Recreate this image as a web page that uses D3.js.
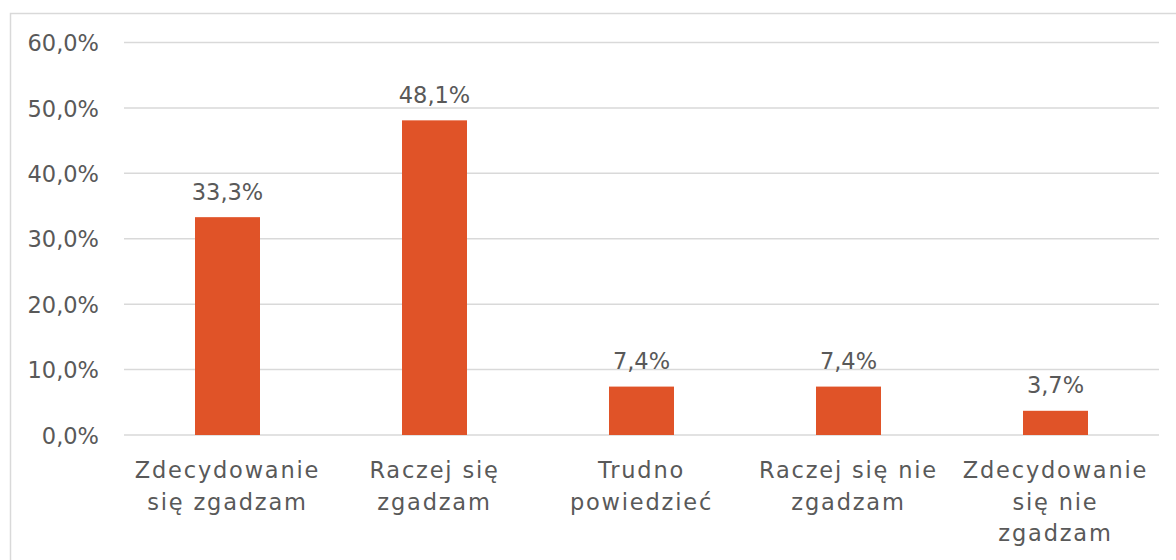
<!DOCTYPE html>
<html>
<head>
<meta charset="utf-8">
<script src="https://cdn.jsdelivr.net/npm/d3@7"></script>
<style>
  html, body { margin: 0; padding: 0; background: #fff; }
  svg { display: block; }
  text { font-family: "DejaVu Sans", sans-serif; fill: #595959; }
</style>
</head>
<body>
<svg id="chart" width="1176" height="560"></svg>
<script>
const categories = [
  "Zdecydowanie\nsię zgadzam",
  "Raczej się\nzgadzam",
  "Trudno\npowiedzieć",
  "Raczej się nie\nzgadzam",
  "Zdecydowanie\nsię nie\nzgadzam"
];
const values = [33.3, 48.1, 7.4, 7.4, 3.7];
const yTicks = [0, 10, 20, 30, 40, 50, 60];

const pl = d3.formatLocale({decimal: ",", thousands: " ", grouping: [3], currency: ["", " zł"]});
const fmt = v => pl.format(".1f")(v) + "%";

const svg = d3.select("#chart");
const W = 1176, H = 560;
const plot = {left: 124, right: 1159, top: 42.5, bottom: 435};

// outer border
svg.append("rect")
  .attr("x", 10.5).attr("y", 13.5)
  .attr("width", W + 20).attr("height", H + 20)
  .attr("fill", "none").attr("stroke", "#d9d9d9").attr("stroke-width", 1.5);

const x = d3.scaleBand()
  .domain(categories)
  .range([plot.left, plot.right])
  .paddingInner(0.686)
  .paddingOuter(0.343);

const y = d3.scaleLinear()
  .domain([0, 60])
  .range([plot.bottom, plot.top]);

// gridlines
svg.append("g")
  .selectAll("line")
  .data(yTicks)
  .join("line")
  .attr("x1", plot.left).attr("x2", plot.right)
  .attr("y1", d => y(d)).attr("y2", d => y(d))
  .attr("stroke", "#d9d9d9").attr("stroke-width", 1.5);

// y axis labels
const yAxis = d3.axisLeft(y).tickValues(yTicks).tickFormat(fmt).tickSize(0).tickPadding(0);
const ya = svg.append("g").attr("transform", "translate(99,0)").call(yAxis);
ya.select(".domain").remove();
ya.selectAll("text")
  .attr("font-family", "DejaVu Sans").attr("font-size", 22.5).attr("fill", "#595959")
  .attr("dy", "0.36em");

// bars
svg.append("g")
  .selectAll("rect")
  .data(values)
  .join("rect")
  .attr("x", (d, i) => x(categories[i]))
  .attr("width", x.bandwidth())
  .attr("y", d => y(d))
  .attr("height", d => y(0) - y(d))
  .attr("fill", "#E05328");

// value labels
svg.append("g")
  .selectAll("text")
  .data(values)
  .join("text")
  .attr("x", (d, i) => x(categories[i]) + x.bandwidth() / 2)
  .attr("y", d => y(d) - 17.5)
  .attr("text-anchor", "middle")
  .attr("font-size", 22.5)
  .text(d => fmt(d));

// category labels
const xAxis = d3.axisBottom(x).tickSize(0).tickFormat("");
const xa = svg.append("g").attr("transform", `translate(0,${plot.bottom})`).call(xAxis);
xa.select(".domain").remove();
xa.selectAll(".tick").each(function(d) {
  const t = d3.select(this).append("text")
    .attr("text-anchor", "middle")
    .attr("font-size", 22.5)
    .attr("letter-spacing", 1.8)
    .attr("fill", "#595959");
  d.split("\n").forEach((line, i) => {
    t.append("tspan").attr("x", 0).attr("y", 43 + i * 31.5).text(line);
  });
});
</script>
</body>
</html>
